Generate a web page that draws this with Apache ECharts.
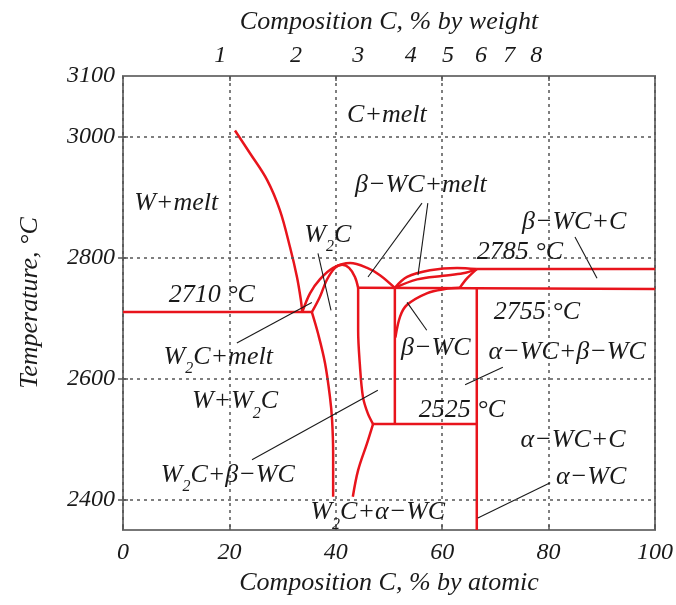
<!DOCTYPE html>
<html><head><meta charset="utf-8">
<script src="https://cdn.jsdelivr.net/npm/echarts@6/dist/echarts.min.js"></script>
<style>html,body{margin:0;padding:0;background:#fff}#c{width:676px;height:605px}</style>
</head><body><div id="c"></div>
<script>
// ---- axis ticks ----
const atomicMin = 0, atomicMax = 100, atomicStep = 20;
const weightTickPos = [18.3, 32.5, 44.2, 54.1, 61.1, 67.3, 72.6, 77.7];
const weightTickLabels = ['1','2','3','4','5','6','7','8'];
const weightTickMarks = [20, 40, 60, 80];
const tempMin = 2350, tempMax = 3100;
const tempTickLabels = [2400, 2600, 2800, 3000, 3100];
const tempGrid = [2400, 2600, 2800, 3000];

// ---- phase boundaries [at% C, T °C] ----
const liquidusW = [[21.05,3010],[23.9,2972],[27.1,2928],[29.5,2878],[31.4,2817],[32.7,2768],[33.4,2732],[33.7,2710]];
const eutectic2710 = [[0,2710],[35.5,2710]];
const w2cLiquidus = [[33.7,2710],[35.15,2741],[37.0,2764],[39.5,2783],[42.7,2791],[45.9,2783],[48.3,2771],[51.1,2750]];
const w2cSolidus = [[35.5,2710],[37.0,2735],[38.3,2763],[39.85,2783],[41.2,2788],[42.5,2783],[43.6,2768],[44.2,2750]];
const w2cRightUpper = [[44.2,2750],[44.2,2680],[44.5,2626],[45.1,2570],[46.0,2543],[47.0,2525]];
const w2cRightLower = [[47.0,2525],[45.9,2494],[44.2,2449],[43.2,2405]];
const w2cLeft = [[35.5,2710],[36.65,2675],[37.97,2626],[38.9,2570],[39.3,2532],[39.5,2477],[39.5,2405]];
const line2755 = [[44.2,2750],[100,2748]];
const line2525 = [[47.0,2525],[66.5,2525]];
const betaLeft = [[51.1,2750],[51.1,2525]];
const alphaWC = [[66.5,2750],[66.5,2350]];
const line2785 = [[66.5,2781],[100,2781]];
const lensUpper = [[51.1,2750],[53.4,2768],[57.7,2779],[62.8,2783],[66.5,2781]];
const lensLower = [[51.1,2750],[55.3,2764],[60.2,2770],[63.9,2774],[66.5,2781]];
const betaRightUpper = [[66.5,2781],[64.7,2766],[63.3,2750]];
const betaRightLower = [[51.2,2668],[52.1,2703],[53.4,2722],[57.1,2741],[60.5,2748],[63.3,2750]];

// ---- leader lines ----
const leaders = [
  [[36.65,2807],[39.1,2713]],
  [[56.2,2890],[46.05,2768]],
  [[57.3,2890],[55.45,2771]],
  [[84.96,2834],[89.1,2766]],
  [[21.4,2659],[35.5,2726]],
  [[24.25,2466],[47.9,2581]],
  [[53.4,2726],[57.1,2680]],
  [[64.3,2590],[71.4,2619]],
  [[66.7,2370],[80.3,2428]]
];

// ---- region / temperature labels ----
const annotations = [
  [49.6,3035,'C+melt'],
  [10.0,2890,'W+melt'],
  [38.5,2837,'W{s|2}C'],
  [56.0,2919,'β−WC+melt'],
  [16.7,2738,'2710 °C'],
  [84.8,2858,'β−WC+C'],
  [74.6,2809,'2785 °C'],
  [77.8,2710,'2755 °C'],
  [58.8,2651,'β−WC'],
  [83.5,2644,'α−WC+β−WC'],
  [17.9,2636,'W{s|2}C+melt'],
  [21.05,2562,'W+W{s|2}C'],
  [63.7,2548,'2525 °C'],
  [84.6,2499,'α−WC+C'],
  [88.0,2438,'α−WC'],
  [19.7,2441,'W{s|2}C+β−WC'],
  [47.9,2379,'W{s|2}C+α−WC']
];

const smoothCurves = [liquidusW, w2cLiquidus, w2cSolidus, w2cRightUpper, w2cRightLower, w2cLeft, lensUpper, lensLower, betaRightUpper, betaRightLower];
const straightLines = [eutectic2710, line2755, line2525, betaLeft, alphaWC, line2785];

const FONT = "'Liberation Serif','Times New Roman',serif";
const RED = '#e8141c';
const TXT = '#1a1a1a';
const GRIDC = '#555';

const series = [];
series.push({
  type:'line', data:[[0,tempMin]], symbol:'none', lineStyle:{width:0}, silent:true, z:1,
  markLine:{silent:true, symbol:'none', label:{show:false},
    lineStyle:{type:[3,4], color:GRIDC, width:1.5},
    data: tempGrid.map(v => ({yAxis:v}))}
});
smoothCurves.forEach(c => series.push({type:'line', data:c, smooth:0.35, symbol:'none', silent:true, z:3,
  lineStyle:{color:RED, width:2.5}}));
straightLines.forEach(c => series.push({type:'line', data:c, symbol:'none', silent:true, z:3,
  lineStyle:{color:RED, width:2.5}}));
leaders.forEach(c => series.push({type:'line', data:c, symbol:'none', silent:true, z:4,
  lineStyle:{color:TXT, width:1.1}}));
series.push({
  type:'scatter', symbolSize:1, itemStyle:{color:'rgba(0,0,0,0)'}, silent:true, z:5,
  data: annotations.map(a => ({value:[a[0],a[1]], name:a[2]})),
  label:{show:true, position:'inside', formatter: p => p.name,
    fontFamily:FONT, fontStyle:'italic', fontSize:26, color:TXT,
    textBorderWidth:0, textBorderColor:'transparent', opacity:1,
    rich:{s:{fontFamily:FONT, fontStyle:'italic', fontSize:16, color:TXT,
      textBorderWidth:0, padding:[24,0,0,0]}}}
});

const tickStyle = {color:GRIDC, width:1.5};
const labelStyle = {fontFamily:FONT, fontStyle:'italic', fontSize:24, color:TXT};
const nameStyle = {fontFamily:FONT, fontStyle:'italic', fontSize:26, color:TXT};

const option = {
  animation:false,
  backgroundColor:'#fff',
  grid:{left:123, right:21, top:76, bottom:75, show:true, borderColor:'#777', borderWidth:2},
  xAxis:[
    {type:'value', position:'bottom', min:atomicMin, max:atomicMax, interval:atomicStep,
     axisLine:{show:false}, axisTick:{inside:true, length:5, lineStyle:tickStyle},
     axisLabel:Object.assign({margin:11, formatter:v => String(v)}, labelStyle),
     splitLine:{show:true, lineStyle:{type:[3,4], color:GRIDC, width:1.5}},
     name:'Composition C, % by atomic', nameLocation:'middle', nameGap:40, nameTextStyle:nameStyle},
    {type:'value', position:'top', min:atomicMin, max:atomicMax,
     axisLine:{show:false},
     axisTick:{inside:true, length:5, customValues:weightTickMarks, lineStyle:tickStyle},
     axisLabel:Object.assign({margin:8, customValues:weightTickPos,
       formatter:v => weightTickLabels[weightTickPos.findIndex(p => Math.abs(p - v) < 1e-6)] || ''}, labelStyle),
     splitLine:{show:false},
     name:'Composition C, % by weight', nameLocation:'middle', nameGap:41, nameTextStyle:nameStyle}
  ],
  yAxis:[
    {type:'value', min:tempMin, max:tempMax, axisLine:{show:false},
     axisTick:{inside:true, length:5, customValues:tempGrid, lineStyle:tickStyle},
     axisLabel:Object.assign({margin:8, customValues:tempTickLabels, formatter:v => String(v)}, labelStyle),
     splitLine:{show:false},
     name:'Temperature, °C', nameLocation:'middle', nameGap:80, nameTextStyle:nameStyle},
    {type:'value', position:'right', min:tempMin, max:tempMax, axisLine:{show:false},
     axisTick:{inside:true, length:5, customValues:tempGrid, lineStyle:tickStyle},
     axisLabel:{show:false}, splitLine:{show:false}}
  ],
  series: series
};
echarts.init(document.getElementById('c')).setOption(option);
</script></body></html>
